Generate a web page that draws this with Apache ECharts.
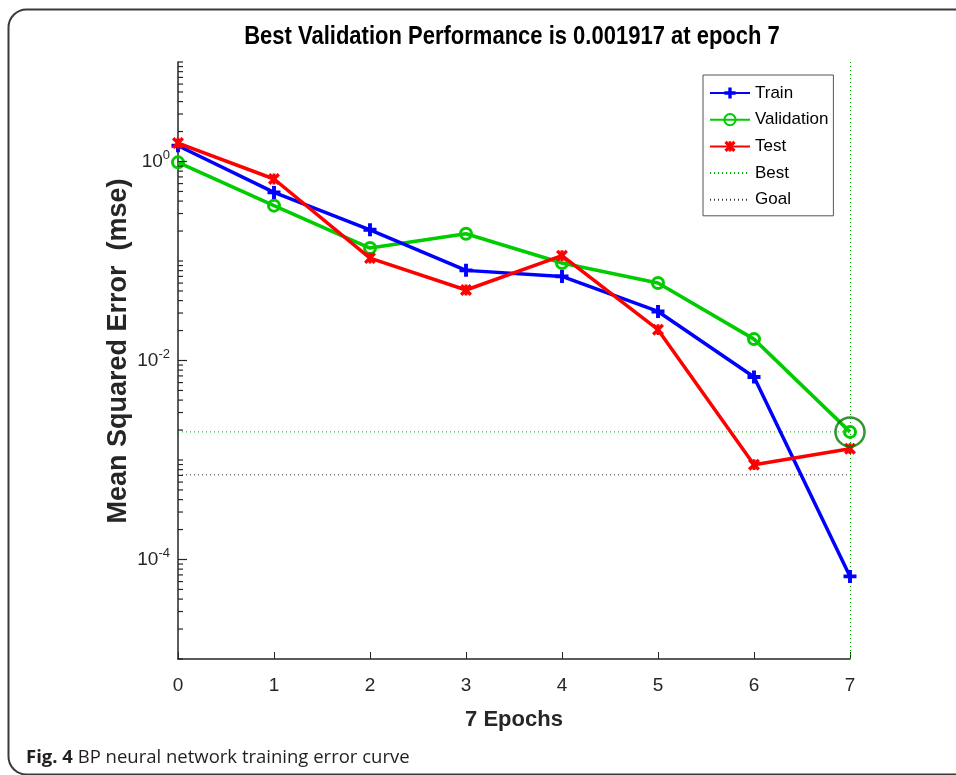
<!DOCTYPE html>
<html><head><meta charset="utf-8">
<script src="https://cdn.jsdelivr.net/npm/echarts@6/dist/echarts.min.js"></script>
<style>html,body{margin:0;padding:0;background:#fff}#c{width:956px;height:775px}</style>
</head><body><div id="c"></div>
<script>
const epochs = [0, 1, 2, 3, 4, 5, 6, 7];
const trainValues = [1.44, 0.489, 0.206, 0.0805, 0.070, 0.0311, 0.00683, 6.76e-5];
const validationValues = [0.98, 0.36, 0.135, 0.188, 0.0955, 0.060, 0.0164, 0.001917];
const testValues = [1.53, 0.667, 0.107, 0.0511, 0.113, 0.0204, 0.000897, 0.0013];
const bestEpoch = 7;
const bestValue = 0.001917;
const goalValue = 0.00071;
const yMin = 1e-5, yMax = 10;
const yLabelExponents = [0, -2, -4];
const titleText = 'Best Validation Performance is 0.001917 at epoch 7';
const xName = '7 Epochs';
const yName = 'Mean Squared Error  (mse)';
const captionBold = 'Fig. 4';
const captionText = ' BP neural network training error curve';
const legendNames = ['Train', 'Validation', 'Test', 'Best', 'Goal'];

const SANS = '"Liberation Sans", Arial, sans-serif';
const AX = '#262626';

// minor ticks of log axis (m * 10^k)
const logTicks = [];
for (let k = Math.log10(yMin); k < Math.log10(yMax); k++) {
  for (let m = 1; m <= 9; m++) {
    logTicks.push([0, m * Math.pow(10, k), (m === 1 && yLabelExponents.includes(k)) ? 1 : 0]);
  }
}
logTicks.push([0, yMax, 0]);

const plusPath = 'path://M3.5,0h3v3.5h3.5v3h-3.5v3.5h-3v-3.5h-3.5v-3h3.5z';
const starPath = 'path://M0,2L2,0L5,3L8,0L10,2L7,5L10,8L8,10L5,7L2,10L0,8L3,5Z M3.8,0.5h2.4v9h-2.4z';

const chart = echarts.init(document.getElementById('c'), null, {renderer: 'canvas'});
const zip = (vals) => epochs.map((e, i) => [e, vals[i]]);

chart.setOption({
  animation: false,
  backgroundColor: '#fff',
  grid: {left: 178, right: 106, top: 62, bottom: 116},
  legend: {
    data: legendNames.map(n => (n === 'Best' || n === 'Goal') ? {name: n, itemStyle: {opacity: 0}} : {name: n}),
    orient: 'vertical', left: 703, top: 75,
    itemWidth: 40, itemHeight: 14, itemGap: 6.7,
    padding: [8, 5, 6, 6],
    borderColor: '#555', borderWidth: 1,
    textStyle: {fontFamily: SANS, fontSize: 17, color: '#000', lineHeight: 20},
    selectedMode: false
  },
  xAxis: {
    type: 'value', min: 0, max: 7, interval: 1,
    name: xName, nameLocation: 'middle', nameGap: 50,
    nameTextStyle: {fontFamily: SANS, fontWeight: 'bold', fontSize: 22, color: AX},
    axisLine: {lineStyle: {color: AX, width: 1.5}},
    axisTick: {inside: true, length: 7, lineStyle: {color: AX, width: 1}},
    axisLabel: {fontFamily: SANS, fontSize: 19, color: AX, margin: 17},
    splitLine: {show: false}
  },
  yAxis: {
    type: 'log', logBase: 10, min: yMin, max: yMax,
    axisLine: {lineStyle: {color: AX, width: 1.5}},
    axisTick: {show: false},
    axisLabel: {
      margin: 8, color: AX,
      formatter: (v) => {
        const e = Math.round(Math.log10(v));
        return yLabelExponents.includes(e) ? '{b|10}{s|' + e + '}' : '';
      },
      rich: {
        b: {fontFamily: SANS, fontSize: 19, color: AX},
        s: {fontFamily: SANS, fontSize: 13, color: AX, padding: [0, 0, 12, 0]}
      }
    },
    splitLine: {show: false}
  },
  series: [
    {
      name: 'Train', type: 'line', data: zip(trainValues),
      symbol: plusPath, symbolSize: 13, z: 5,
      lineStyle: {color: '#0000ff', width: 3.5}, itemStyle: {color: '#0000ff'}
    },
    {
      name: 'Validation', type: 'line', data: zip(validationValues),
      symbol: 'circle', symbolSize: 11, z: 4,
      lineStyle: {color: '#00cc00', width: 3.5},
      itemStyle: {color: 'rgba(0,0,0,0)', borderColor: '#00cc00', borderWidth: 3}
    },
    {
      name: 'Test', type: 'line', data: zip(testValues),
      symbol: starPath, symbolSize: 12, z: 6,
      lineStyle: {color: '#ff0000', width: 3.5}, itemStyle: {color: '#ff0000'}
    },
    {
      name: 'Best', type: 'line', data: [[0, bestValue], [bestEpoch, bestValue]],
      symbol: 'none', z: 2,
      lineStyle: {color: '#00aa00', width: 1, type: [1, 3]}, itemStyle: {color: '#00aa00'},
      markLine: {
        silent: true, symbol: 'none', label: {show: false},
        lineStyle: {color: '#00aa00', width: 1, type: [1, 3]},
        data: [{xAxis: bestEpoch}]
      }
    },
    {
      name: 'Goal', type: 'line', data: [[0, goalValue], [bestEpoch, goalValue]],
      symbol: 'none', z: 2,
      lineStyle: {color: '#333', width: 1, type: [1, 3]}, itemStyle: {color: '#333'}
    },
    {
      name: 'bestPoint', type: 'scatter', data: [[bestEpoch, bestValue]],
      symbol: 'circle', symbolSize: 29, z: 7,
      itemStyle: {color: 'rgba(0,0,0,0)', borderColor: '#007a00', borderWidth: 2.5}
    },
    {
      name: 'yTicks', type: 'custom', data: logTicks, silent: true, clip: false, z: 8,
      renderItem: (params, api) => {
        const p = api.coord([api.value(0), api.value(1)]);
        const len = api.value(2) ? 9 : 5;
        return {type: 'line', shape: {x1: p[0], y1: p[1], x2: p[0] + len, y2: p[1]},
          style: {stroke: AX, lineWidth: 1.2}};
      }
    }
  ],
  graphic: [
    {type: 'rect', left: 6, top: 7, z: -1, silent: true,
      shape: {x: 0, y: 0, width: 1000, height: 765, r: 18},
      style: {fill: 'none', stroke: '#3a3a3a', lineWidth: 2}},
    {type: 'text', x: 512, y: 37, scaleX: 0.88, silent: true, z: 10,
      style: {text: titleText, align: 'center', verticalAlign: 'middle',
        font: 'bold 25px "Liberation Sans", Arial, sans-serif', fill: '#000'}},
    {type: 'text', x: 119, y: 351, rotation: Math.PI / 2, silent: true, z: 10,
      style: {text: yName, align: 'center', verticalAlign: 'middle',
        font: 'bold 27px "Liberation Sans", Arial, sans-serif', fill: AX}},
    {type: 'text', left: 26, top: 748, silent: true,
      style: {text: '{b|' + captionBold + '}{r|' + captionText + '}',
        rich: {
          b: {fontFamily: '"Open Sans", sans-serif', fontWeight: 'bold', fontSize: 18.5, fill: '#231f20'},
          r: {fontFamily: '"Open Sans", sans-serif', fontSize: 18.5, fill: '#231f20'}
        }}}
  ]
});
</script></body></html>
